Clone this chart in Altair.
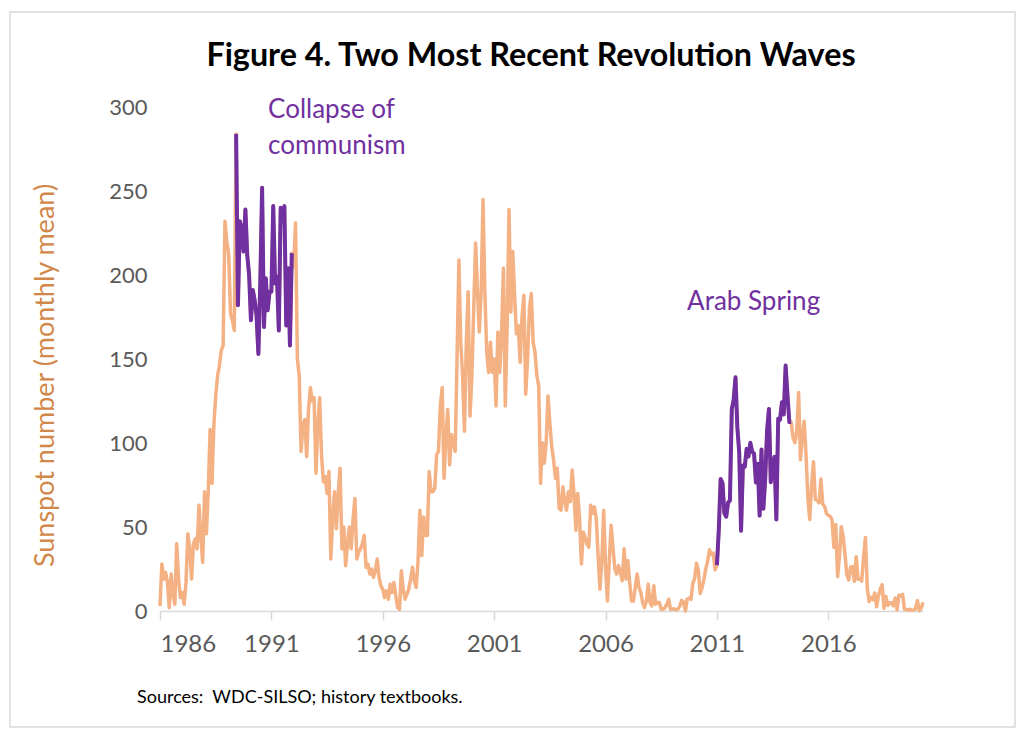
import altair as alt
import pandas as pd

# Monthly mean sunspot number, Jan 1986 .. Apr 2020
y1986 = [3, 28, 19, 23, 17, 2, 22, 10, 4, 40, 19, 8]
y1987 = [11, 4, 17, 46, 37, 19, 40, 43, 37, 63, 44, 29]
y1988 = [71, 46, 72, 108, 76, 110, 128, 140, 146, 155, 158, 232]
y1989 = [220, 212, 177, 173, 167, 284, 182, 232, 228, 214, 239, 212]
y1990 = [200, 173, 191, 185, 176, 153, 195, 252, 169, 198, 179, 190]
y1991 = [190, 241, 195, 199, 167, 240, 232, 241, 170, 204, 158, 213]
y1992 = [205, 231, 150, 140, 95, 110, 114, 92, 120, 133, 125, 127]
y1993 = [82, 110, 127, 93, 77, 80, 70, 83, 31, 55, 71, 49]
y1994 = [70, 85, 37, 50, 27, 40, 50, 37, 55, 67, 31, 35]
y1995 = [37, 40, 45, 26, 28, 22, 25, 20, 24, 31, 20, 15]
y1996 = [13, 8, 12, 7, 16, 11, 17, 9, 2, 1, 24, 13]
y1997 = [7, 10, 13, 19, 26, 18, 14, 30, 60, 33, 56, 45]
y1998 = [45, 83, 71, 71, 73, 93, 95, 122, 133, 79, 103, 120]
y1999 = [87, 105, 100, 95, 150, 209, 160, 140, 107, 160, 190, 116]
y2000 = [140, 180, 219, 190, 166, 190, 245, 190, 154, 142, 160, 142]
y2001 = [150, 122, 166, 142, 166, 204, 122, 170, 239, 178, 214, 188]
y2002 = [165, 170, 148, 175, 188, 129, 150, 180, 189, 160, 154, 140]
y2003 = [134, 76, 100, 88, 100, 128, 112, 98, 90, 79, 85, 61]
y2004 = [60, 74, 65, 60, 71, 65, 84, 70, 48, 70, 55, 28]
y2005 = [47, 44, 40, 38, 63, 58, 62, 55, 33, 13, 30, 60]
y2006 = [26, 6, 30, 51, 38, 25, 22, 27, 23, 18, 37, 19]
y2007 = [30, 17, 6, 6, 14, 22, 14, 11, 5, 2, 6, 16]
y2008 = [5, 3, 15, 4, 5, 5, 1, 1, 2, 4, 7, 1]
y2009 = [1.2, 1.3, 0.6, 1.2, 2.9, 6.3, 5.5, 0.0, 7.1, 7.7, 6.9, 16.3]
y2010 = [19.5, 28.5, 24.0, 10.4, 13.9, 18.8, 25.2, 29.6, 36.4, 33.6, 34.4, 24.5]
y2011 = [27.3, 48.3, 78.6, 76.1, 58.2, 56.1, 64.5, 65.8, 120.1, 125.7, 139.1, 109.3]
y2012 = [94.4, 47.8, 86.6, 85.9, 96.5, 92.0, 100.1, 94.8, 93.7, 76.5, 87.6, 56.8]
y2013 = [96.1, 60.9, 78.3, 107.3, 120.2, 76.7, 86.2, 91.8, 54.5, 114.4, 113.9, 124.2]
y2014 = [117.0, 146.1, 128.7, 112.5, 112.5, 102.9, 100.2, 106.9, 130.0, 90.0, 103.6, 112.9]
y2015 = [93.0, 66.7, 54.5, 75.3, 88.8, 66.5, 65.8, 64.4, 78.6, 63.6, 62.2, 58.0]
y2016 = [57.0, 56.4, 54.1, 37.9, 51.5, 20.5, 32.4, 50.2, 44.6, 33.4, 21.4, 18.5]
y2017 = [26.1, 26.4, 17.7, 32.3, 18.9, 19.2, 17.8, 32.6, 43.7, 13.2, 5.7, 8.2]
y2018 = [6.8, 10.7, 2.5, 8.9, 13.1, 15.6, 1.6, 8.7, 3.3, 4.9, 4.9, 3.1]
y2019 = [7.7, 0.8, 9.4, 9.1, 9.9, 1.2, 0.9, 0.5, 1.1, 0.4, 0.5, 1.5]
y2020 = [6.2, 0.2, 1.5, 5.2]

years = [y1986, y1987, y1988, y1989, y1990, y1991, y1992, y1993, y1994, y1995,
         y1996, y1997, y1998, y1999, y2000, y2001, y2002, y2003, y2004, y2005,
         y2006, y2007, y2008, y2009, y2010, y2011, y2012, y2013, y2014, y2015,
         y2016, y2017, y2018, y2019, y2020]

# revolution waves: (label, first month, last month) as (year, month)
waves = [("Collapse of communism", (1989, 6), (1991, 12)),
         ("Arab Spring", (2011, 1), (2014, 5))]

tick_years = [1986, 1991, 1996, 2001, 2006, 2011, 2016]

# annotations (text lines, year position, value position)
notes = [(["Collapse of", "communism"], 1990.85, 298),
         (["Arab Spring"], 2009.66, 184)]

TITLE = "Figure 4. Two Most Recent Revolution Waves"
SOURCE = "Sources:\u00a0\u00a0WDC-SILSO; history textbooks."

rows = []
for k, vals in enumerate(years):
    for m, v in enumerate(vals):
        rows.append({"t": 1986 + k + m / 12.0, "v": v, "ym": (1986 + k, m + 1)})

wave_rows = []
for name, start, end in waves:
    for r in rows:
        if start <= r["ym"] <= end:
            wave_rows.append({"t": r["t"], "v": r["v"], "wave": name})
dfw = pd.DataFrame(wave_rows)
df = pd.DataFrame(rows).drop(columns=["ym"])

notes_df = pd.DataFrame([{"t": t, "v": v, "txt": txt} for txt, t, v in notes])

FONT = "Lato"
ORANGE = "#F4B183"
PURPLE = "#7030A0"

x_scale = alt.Scale(domain=[1986, 2020.25], nice=False, zero=False)
y_scale = alt.Scale(domain=[0, 300], nice=False)

x_axis = alt.Axis(values=tick_years, format="d", title=None, grid=False,
                  domainColor="#D9D9D9", domainWidth=1.5, tickColor="#D9D9D9",
                  tickWidth=1.5, tickSize=9, labelFont=FONT, labelFontSize=24,
                  labelColor="#595959", labelPadding=12)
y_axis = alt.Axis(values=[0, 50, 100, 150, 200, 250, 300], grid=False, domain=False,
                  ticks=False, labelFont=FONT, labelFontSize=22, labelColor="#595959",
                  labelPadding=13,
                  title="Sunspot number (monthly mean)", titleFont=FONT,
                  titleFontSize=27, titleFontWeight="normal", titleColor="#D2874A",
                  titleAngle=270, titleAlign="center", titleBaseline="middle",
                  titleX=-115, titleY=268)

base = alt.Chart(df).mark_line(color=ORANGE, strokeWidth=3.5, strokeJoin="round").encode(
    x=alt.X("t:Q", scale=x_scale, axis=x_axis),
    y=alt.Y("v:Q", scale=y_scale, axis=y_axis),
)

purple = alt.Chart(dfw).mark_line(color=PURPLE, strokeWidth=4, strokeJoin="round").encode(
    x=alt.X("t:Q", scale=x_scale),
    y=alt.Y("v:Q", scale=y_scale),
    detail="wave:N",
)

labels = alt.Chart(notes_df).mark_text(
    align="left", baseline="middle", font=FONT, fontSize=26, color=PURPLE, lineHeight=36
).encode(
    x=alt.X("t:Q", scale=x_scale),
    y=alt.Y("v:Q", scale=y_scale),
    text="txt",
)

title = alt.Chart(pd.DataFrame({"s": [TITLE]})).mark_text(
    align="center", baseline="middle", font=FONT, fontSize=32.3, fontWeight="bold",
    color="#000000"
).encode(x=alt.value(371), y=alt.value(-51), text="s:N")

source = alt.Chart(pd.DataFrame({"s": [SOURCE]})).mark_text(
    align="left", baseline="middle", font=FONT, fontSize=18, color="#000000"
).encode(x=alt.value(-23), y=alt.value(591), text="s:N")

border = alt.Chart(pd.DataFrame({"a": [0]})).mark_rect(
    fill="#FFFFFF", fillOpacity=0, stroke="#D9D9D9", strokeWidth=1.5
).encode(x=alt.value(-150), x2=alt.value(855), y=alt.value(-95), y2=alt.value(620))

chart = alt.layer(border, base, purple, labels, title, source).properties(
    width=763, height=504,
    background="#FFFFFF",
    padding={"left": 152, "top": 99, "right": 105, "bottom": 130},
    autosize=alt.AutoSizeParams(type="none"),
).configure_view(strokeWidth=0, stroke="transparent")

chart.save("out.html", embed_options={"renderer": "svg", "actions": False})
